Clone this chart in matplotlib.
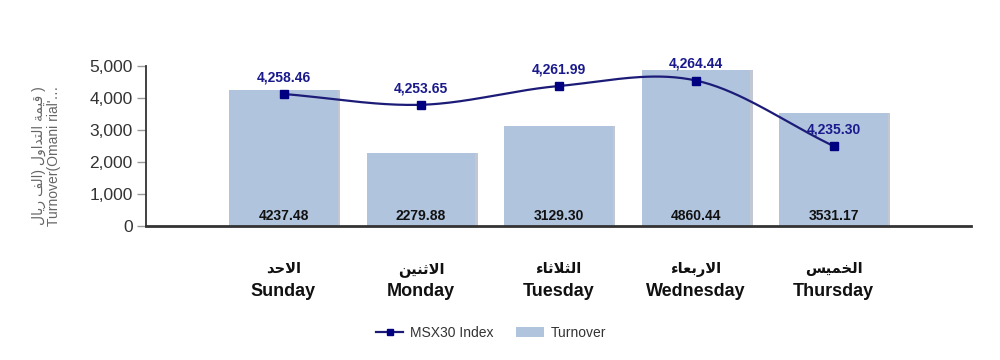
import matplotlib
matplotlib.use('Agg')
import matplotlib.pyplot as plt
from matplotlib import font_manager
from matplotlib.lines import Line2D
from matplotlib.patches import Patch
from matplotlib.ticker import FuncFormatter
import numpy as np

# Chart data
days_en = ['Sunday', 'Monday', 'Tuesday', 'Wednesday', 'Thursday']
days_ar = ['الاحد', 'الاثنين', 'الثلاثاء', 'الاربعاء', 'الخميس']
turnover = [4237.48, 2279.88, 3129.30, 4860.44, 3531.17]
msx30 = [4258.46, 4253.65, 4261.99, 4264.44, 4235.30]
y_ticks = [0, 1000, 2000, 3000, 4000, 5000]
ylabel_ar = 'قيمة التداول (الف ريال'
ylabel_en = "Turnover(Omani rial'…"

SANS = ['Liberation Sans', 'DejaVu Sans']
installed = {f.name for f in font_manager.fontManager.ttflist}
if 'Liberation Sans Narrow' in installed:
    NARROW, NARROW_SIZE = ['Liberation Sans Narrow', 'DejaVu Sans'], 11.5
else:
    NARROW, NARROW_SIZE = SANS, 10

plt.rcParams['font.family'] = SANS

# matplotlib has no Arabic shaping, so pick the presentation forms by hand
# forms: isolated, final, initial, medial
FORMS = {
    '\u0621': ('\uFE80', None, None, None),
    '\u0627': ('\uFE8D', '\uFE8E', None, None),
    '\u0628': ('\uFE8F', '\uFE90', '\uFE91', '\uFE92'),
    '\u0629': ('\uFE93', '\uFE94', None, None),
    '\u062A': ('\uFE95', '\uFE96', '\uFE97', '\uFE98'),
    '\u062B': ('\uFE99', '\uFE9A', '\uFE9B', '\uFE9C'),
    '\u062D': ('\uFEA1', '\uFEA2', '\uFEA3', '\uFEA4'),
    '\u062E': ('\uFEA5', '\uFEA6', '\uFEA7', '\uFEA8'),
    '\u062F': ('\uFEA9', '\uFEAA', None, None),
    '\u0631': ('\uFEAD', '\uFEAE', None, None),
    '\u0633': ('\uFEB1', '\uFEB2', '\uFEB3', '\uFEB4'),
    '\u0639': ('\uFEC9', '\uFECA', '\uFECB', '\uFECC'),
    '\u0641': ('\uFED1', '\uFED2', '\uFED3', '\uFED4'),
    '\u0642': ('\uFED5', '\uFED6', '\uFED7', '\uFED8'),
    '\u0644': ('\uFEDD', '\uFEDE', '\uFEDF', '\uFEE0'),
    '\u0645': ('\uFEE1', '\uFEE2', '\uFEE3', '\uFEE4'),
    '\u0646': ('\uFEE5', '\uFEE6', '\uFEE7', '\uFEE8'),
    '\u0648': ('\uFEED', '\uFEEE', None, None),
    '\u064A': ('\uFEF1', '\uFEF2', '\uFEF3', '\uFEF4'),
    'LA': ('\uFEFB', '\uFEFC', None, None),
}
MIRROR = {'(': ')', ')': '('}


def arabic_visual(text):
    chars = []
    i = 0
    while i < len(text):
        if text[i] == '\u0644' and i + 1 < len(text) and text[i + 1] == '\u0627':
            chars.append('LA')
            i += 2
        else:
            chars.append(text[i])
            i += 1
    out = []
    for k, c in enumerate(chars):
        if c not in FORMS:
            out.append(MIRROR.get(c, c))
            continue
        iso, fin, ini, med = FORMS[c]
        prev = chars[k - 1] if k > 0 else None
        nxt = chars[k + 1] if k + 1 < len(chars) else None
        join_prev = prev in FORMS and FORMS[prev][2] is not None and fin is not None
        join_next = nxt in FORMS and ini is not None and FORMS[nxt][1] is not None
        if join_prev and join_next:
            out.append(med)
        elif join_prev:
            out.append(fin)
        elif join_next:
            out.append(ini)
        else:
            out.append(iso)
    return ''.join(reversed(out))


def smooth(xs, ys, n=40):
    # cubic hermite (catmull-rom) through the points
    xs = np.asarray(xs, float)
    ys = np.asarray(ys, float)
    m = np.gradient(ys, xs)
    px, py = [], []
    for i in range(len(xs) - 1):
        t = np.linspace(0, 1, n)
        h = xs[i + 1] - xs[i]
        h00 = 2 * t**3 - 3 * t**2 + 1
        h10 = t**3 - 2 * t**2 + t
        h01 = -2 * t**3 + 3 * t**2
        h11 = t**3 - t**2
        px.append(xs[i] + t * h)
        py.append(h00 * ys[i] + h10 * h * m[i] + h01 * ys[i + 1] + h11 * h * m[i + 1])
    return np.concatenate(px), np.concatenate(py)


fig = plt.figure(figsize=(10, 3.6), dpi=100)
ax = fig.add_axes([0.146, 0.3722, 0.825, 0.4444])

x = np.arange(len(days_en))
bar_color = '#B0C4DE'
line_color = '#1c1c78'

# bars with a light shadow on the right
ax.bar(x + 0.016, turnover, width=0.79, color='#8f9bad', alpha=0.55, zorder=1)
ax.bar(x, turnover, width=0.79, color=bar_color, zorder=2)

ax.set_xlim(-1, 5)
ax.set_ylim(0, 5000)
ax.set_yticks(y_ticks)
ax.yaxis.set_major_formatter(FuncFormatter(lambda v, p: f'{v:,.0f}'))
ax.set_xticks([])
ax.tick_params(axis='y', length=6.5, width=1, color='#999999',
               labelsize=12.5, labelcolor='#333333', pad=3)
for s in ['top', 'right']:
    ax.spines[s].set_visible(False)
ax.spines['left'].set_color('#333333')
ax.spines['left'].set_linewidth(1.3)
ax.spines['bottom'].set_color('#333333')
ax.spines['bottom'].set_linewidth(2)

# turnover values inside the bars
for xi, v in zip(x, turnover):
    ax.annotate(f'{v:.2f}', xy=(xi, 0), xytext=(0, 7.5), textcoords='offset points',
                ha='center', va='center', fontsize=NARROW_SIZE, fontweight='bold',
                family=NARROW, color='#111111', zorder=5)

# day labels: arabic above english
for xi, ar, en in zip(x, days_ar, days_en):
    ax.annotate(arabic_visual(ar), xy=(xi, 0), xycoords=('data', 'axes fraction'),
                xytext=(0, -31), textcoords='offset points', ha='center', va='center',
                fontsize=10.5, fontweight='bold', family=SANS, color='#111111',
                annotation_clip=False)
    ax.annotate(en, xy=(xi, 0), xycoords=('data', 'axes fraction'),
                xytext=(0, -47), textcoords='offset points', ha='center', va='center',
                fontsize=13, fontweight='bold', family=SANS, color='#111111',
                annotation_clip=False)

# y axis title, two lines
ax.set_ylabel(arabic_visual(ylabel_ar) + ' )' + '\n' + ylabel_en,
              fontsize=10, color='#666666', linespacing=1.05, family=SANS)
ax.yaxis.set_label_coords(-0.103, 0.44)

# MSX30 index on a hidden second axis
ax2 = ax.twinx()
ax2.set_ylim(4199.7, 4270.9)
ax2.set_yticks([])
for s in ax2.spines.values():
    s.set_visible(False)
sx, sy = smooth(x, msx30)
ax2.plot(sx, sy, color=line_color, lw=1.6, zorder=3)
ax2.plot(x, msx30, ls='none', marker='s', ms=5.5, color='#000080', zorder=4)
for xi, v in zip(x, msx30):
    ax2.annotate(f'{v:,.2f}', xy=(xi, v), xytext=(0, 12), textcoords='offset points',
                 ha='center', va='center', fontsize=10, fontweight='bold',
                 color='#1a1a8c', annotation_clip=False)

handles = [
    Line2D([], [], color=line_color, lw=1.6, marker='s', ms=5, markerfacecolor='#000080',
           markeredgecolor='#000080'),
    Patch(facecolor=bar_color, edgecolor='none'),
]
fig.legend(handles, ['MSX30 Index', 'Turnover'], loc='center', bbox_to_anchor=(0.491, 0.075),
           ncol=2, frameon=False, fontsize=10, handlelength=2.0, handleheight=0.8,
           handletextpad=0.5, columnspacing=1.6, labelcolor='#333333')

fig.savefig('out.png', dpi=100, facecolor='white')
